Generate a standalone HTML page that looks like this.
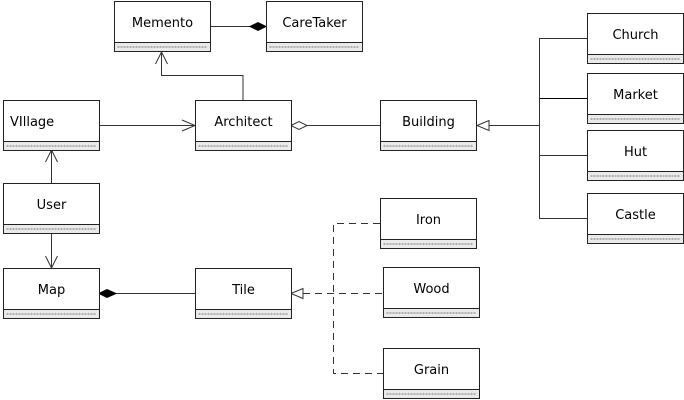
<!DOCTYPE html>
<html><head><meta charset="utf-8"><style>
html,body{margin:0;padding:0;background:#fff;}
svg{display:block;}
text{font-family:"DejaVu Sans","Liberation Sans",sans-serif;font-size:13px;fill:#000;}
.b{fill:#fff;stroke:#222;stroke-width:1;}
.c{fill:#eaeaea;stroke:#222;stroke-width:1;}
.d{stroke:#777;stroke-width:1;stroke-dasharray:2,1;}
</style></head><body>
<svg width="684" height="400" viewBox="0 0 684 400" xmlns="http://www.w3.org/2000/svg">
<defs>
<g id="box">
<rect class="b" x="0.5" y="0.5" width="96" height="50"/>
<rect class="c" x="0.5" y="41.5" width="96" height="9"/>
<line class="d" x1="3.5" y1="46" x2="93.5" y2="46"/>
</g>
</defs>
<g stroke="#333" stroke-width="1" fill="none">
<line x1="210" y1="26.5" x2="250" y2="26.5"/>
<polygon points="250,26.5 258,22.5 266,26.5 258,30.5" fill="#000" stroke="#000"/>
<polyline points="243,100 243,75.5 161.5,75.5 161.5,52"/>
<polyline points="155.5,64 161.5,52 167.5,64"/>
<line x1="99" y1="125.5" x2="195" y2="125.5"/>
<polyline points="182,120 195,125.5 182,131"/>
<line x1="307" y1="125.5" x2="380" y2="125.5"/>
<polygon points="291,125.5 299,121.5 307,125.5 299,129.5" fill="#fff"/>
<line x1="51.5" y1="150" x2="51.5" y2="183"/>
<polyline points="45.5,162 51.5,150 57.5,162"/>
<line x1="51.5" y1="234" x2="51.5" y2="268"/>
<polyline points="45.5,256 51.5,268 57.5,256"/>
<line x1="116" y1="293.5" x2="195" y2="293.5"/>
<polygon points="99,293.5 107,289.5 116,293.5 107,297.5" fill="#000" stroke="#000"/>
<line x1="489" y1="125.5" x2="539.5" y2="125.5"/>
<polygon points="477,125.5 489,120.5 489,130.5" fill="#fff"/>
<polyline points="587,38.5 539.5,38.5 539.5,218.5 587,218.5"/>
<line x1="539.5" y1="98.5" x2="587" y2="98.5" stroke="#000"/>
<line x1="539.5" y1="155.5" x2="587" y2="155.5"/>
<g stroke-dasharray="7,5">
<polyline points="380,223.5 333.5,223.5 333.5,373.5 383,373.5"/>
<line x1="303" y1="293.5" x2="383" y2="293.5"/>
</g>
<polygon points="291,293.5 303,288.5 303,298.5" fill="#fff"/>
</g>
<g transform="translate(114,1)"><use href="#box"/><text x="48.5" y="26" text-anchor="middle">Memento</text></g>
<g transform="translate(266,1)"><use href="#box"/><text x="48.5" y="26" text-anchor="middle">CareTaker</text></g>
<g transform="translate(3,100)"><use href="#box"/><text x="7" y="26">VIllage</text></g>
<g transform="translate(195,100)"><use href="#box"/><text x="48.5" y="26" text-anchor="middle">Architect</text></g>
<g transform="translate(380,100)"><use href="#box"/><text x="48.5" y="26" text-anchor="middle">Building</text></g>
<g transform="translate(3,183)"><use href="#box"/><text x="48.5" y="26" text-anchor="middle">User</text></g>
<g transform="translate(3,268)"><use href="#box"/><text x="48.5" y="26" text-anchor="middle">Map</text></g>
<g transform="translate(195,268)"><use href="#box"/><text x="48.5" y="26" text-anchor="middle">Tile</text></g>
<g transform="translate(587,13)"><use href="#box"/><text x="48.5" y="26" text-anchor="middle">Church</text></g>
<g transform="translate(587,73)"><use href="#box"/><text x="48.5" y="26" text-anchor="middle">Market</text></g>
<g transform="translate(587,130)"><use href="#box"/><text x="48.5" y="26" text-anchor="middle">Hut</text></g>
<g transform="translate(587,193)"><use href="#box"/><text x="48.5" y="26" text-anchor="middle">Castle</text></g>
<g transform="translate(380,198)"><use href="#box"/><text x="48.5" y="26" text-anchor="middle">Iron</text></g>
<g transform="translate(383,267)"><use href="#box"/><text x="48.5" y="26" text-anchor="middle">Wood</text></g>
<g transform="translate(383,348)"><use href="#box"/><text x="48.5" y="26" text-anchor="middle">Grain</text></g>
</svg>
</body></html>
